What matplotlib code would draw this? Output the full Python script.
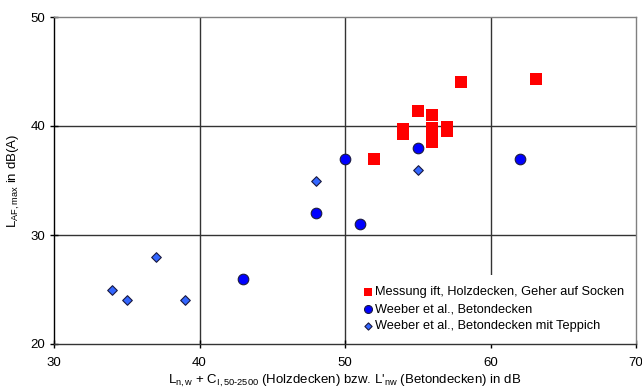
import matplotlib
matplotlib.use("Agg")
import matplotlib.pyplot as plt

plt.rcParams['font.family'] = ['Liberation Sans', 'DejaVu Sans']
plt.rcParams['mathtext.fontset'] = 'custom'
plt.rcParams['mathtext.rm'] = 'Liberation Sans'
plt.rcParams['mathtext.it'] = 'Liberation Sans'

# Messung ift, Holzdecken
ift_x = [52, 54, 54, 55, 56, 56, 56, 56, 57, 57, 58, 63.1]
ift_y = [37, 39.3, 39.7, 41.4, 41.0, 39.8, 39.6, 38.5, 39.9, 39.5, 44.0, 44.3]

# Weeber et al., Betondecken
beton_x = [43, 48, 50, 51, 55, 62]
beton_y = [26, 32, 37, 31, 38, 37]

# Weeber et al., Betondecken mit Teppich
teppich_x = [34, 35, 37, 39, 48, 55]
teppich_y = [25, 24, 28, 24, 35, 36]

labels = ['Messung ift, Holzdecken, Geher auf Socken',
          'Weeber et al., Betondecken',
          'Weeber et al., Betondecken mit Teppich']

fig = plt.figure(figsize=(6.42, 3.91), dpi=100)
ax = fig.add_axes([54/642, 47/391, 582/642, 327/391])

for v in [40, 50, 60]:
    ax.axvline(v, color='#333333', lw=1.0, zorder=1)
for v in [30, 40]:
    ax.axhline(v, color='#333333', lw=1.0, zorder=1)

ax.scatter(ift_x, ift_y, marker='s', s=66, color='#FF0000', lw=0, zorder=3, label=labels[0])
ax.scatter(beton_x, beton_y, marker='o', s=58, color='#0000FF', edgecolor='#1a1a40', lw=0.8, zorder=3, label=labels[1])
ax.scatter(teppich_x, teppich_y, marker='D', s=24, color='#3366FF', edgecolor='#1a1a40', lw=0.8, zorder=3, label=labels[2])

ax.set_xlim(30, 70)
ax.set_ylim(20, 50)
ax.set_xticks([30, 40, 50, 60, 70])
ax.set_yticks([20, 30, 40, 50])
ax.tick_params(axis='both', direction='inout', length=6, width=1, labelsize=9.5, colors='#000000')
ax.tick_params(axis='x', pad=6)

ax.spines['left'].set_color('#000000')
ax.spines['bottom'].set_color('#333333')
ax.spines['top'].set_color('#808080')
ax.spines['right'].set_color('#808080')
for s in ax.spines.values():
    s.set_linewidth(1.0)

ax.set_xlabel(r"L$_{\mathrm{n,w}}$ + C$_{\mathrm{I,50\text{-}2500}}$ (Holzdecken) bzw. L'$_{\mathrm{nw}}$ (Betondecken) in dB",
              fontsize=9.5, labelpad=3)
ax.set_ylabel(r"L$_{\mathrm{AF,max}}$ in dB(A)", fontsize=9.5, labelpad=6)

leg = ax.legend(loc='lower right', bbox_to_anchor=(1.0, 0.0), fontsize=9.2, markerscale=0.75,
                handletextpad=0.1, handlelength=1.0, labelspacing=0.4,
                borderaxespad=0.0, borderpad=0.9,
                frameon=True, fancybox=False, edgecolor='none', facecolor='white', framealpha=1)
leg.get_frame().set_boxstyle('square', pad=0.0)
# legend below spines/ticks so the frame does not hide them
leg.set_zorder(2)

fig.savefig('out.png', dpi=100)
